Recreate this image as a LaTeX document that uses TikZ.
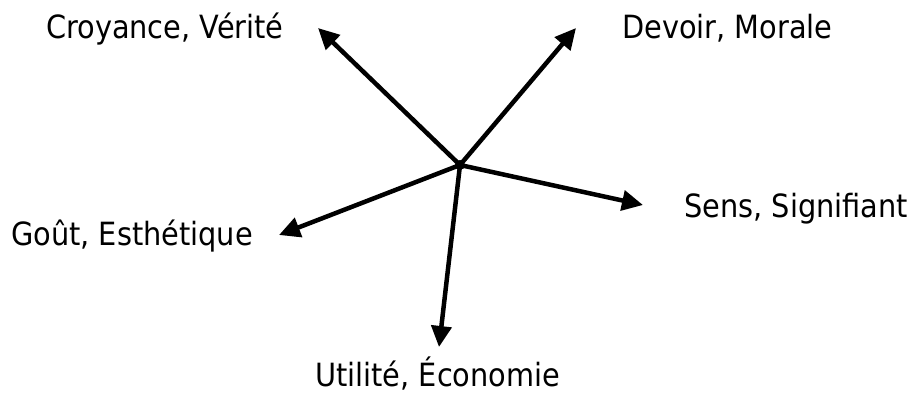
\documentclass[tikz,border=0pt]{standalone}
\usepackage{fontspec}
\setmainfont{DejaVu Sans Condensed}
\usetikzlibrary{arrows.meta}

\begin{document}
\begin{tikzpicture}[
  x=1pt, y=-1pt,
  >={Triangle[length=21pt, width=20pt]},
  valeur/.style={anchor=base west, inner sep=0pt, font=\fontsize{32}{38}\selectfont},
  axe/.style={->, line width=4.5pt},
]
\useasboundingbox (0,0) rectangle (912,394);
\coordinate (centre) at (460,165);
% extremites des fleches
\coordinate (tCroy) at (318,28);
\coordinate (tDev) at (576,28);
\coordinate (tSens) at (643,205);
\coordinate (tGout) at (279,235);
\coordinate (tUtil) at (439,347);

\node[valeur] (croyance) at (46,38) {Croyance, Vérité};
\node[valeur] (devoir) at (622,38) {Devoir, Morale};
\node[valeur] (sens) at (684,217) {Sens, Signifiant};
\node[valeur] (gout) at (11,245) {Goût, Esthétique};
\node[valeur] (utilite) at (315,386) {Utilité, Économie};

\draw[axe] (centre) -- (tCroy);
\draw[axe] (centre) -- (tDev);
\draw[axe] (centre) -- (tSens);
\draw[axe] (centre) -- (tGout);
\draw[axe] (centre) -- (tUtil);
\fill (centre) circle (5pt);
\end{tikzpicture}
\end{document}
